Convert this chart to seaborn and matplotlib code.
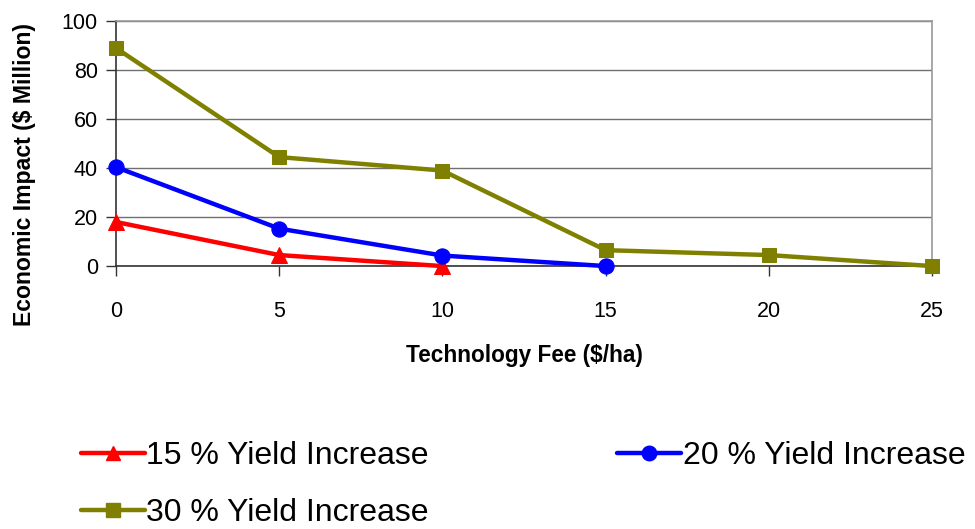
import matplotlib
matplotlib.use("Agg")
import matplotlib.pyplot as plt
import seaborn as sns
import pandas as pd
from matplotlib.lines import Line2D

# Technology fee levels ($/ha) and economic impact ($ million) per yield scenario
fee_15 = [0, 5, 10]
impact_15 = [18.0, 4.5, 0.0]

fee_20 = [0, 5, 10, 15]
impact_20 = [40.4, 15.3, 4.3, 0.0]

fee_30 = [0, 5, 10, 15, 20, 25]
impact_30 = [89.0, 44.5, 39.0, 6.5, 4.5, 0.0]

series_labels = ["15 % Yield Increase", "20 % Yield Increase", "30 % Yield Increase"]
x_ticks = [0, 5, 10, 15, 20, 25]
y_ticks = [0, 20, 40, 60, 80, 100]

sns.set_style("white")
plt.rcParams["font.family"] = ["Liberation Sans", "DejaVu Sans"]
plt.rcParams["text.color"] = "black"
plt.rcParams["axes.labelcolor"] = "black"
plt.rcParams["xtick.color"] = "black"
plt.rcParams["ytick.color"] = "black"

fig = plt.figure(figsize=(9.75, 5.29), dpi=100)
ax = fig.add_axes([0.119, 0.497, 0.837, 0.463])

styles = [
    (fee_15, impact_15, "#FF0000", "^", 11),
    (fee_20, impact_20, "#0000FF", "o", 11),
    (fee_30, impact_30, "#808000", "s", 10),
]

for (xs, ys, color, marker, ms), label in zip(styles, series_labels):
    df = pd.DataFrame({"fee": xs, "impact": ys})
    sns.lineplot(data=df, x="fee", y="impact", ax=ax, color=color, marker=marker,
                 markersize=ms, markeredgecolor=color, linewidth=3.2,
                 clip_on=False, zorder=3, label=label, legend=False)

ax.set_xlim(0, 25)
ax.set_ylim(0, 100)
ax.set_xticks(x_ticks)
ax.set_yticks(y_ticks)
ax.grid(axis="y", color="#707070", linewidth=1.0, zorder=0)
ax.grid(axis="x", visible=False)

for side in ["top", "right"]:
    ax.spines[side].set_color("#9a9a9a")
    ax.spines[side].set_linewidth(1.2)
for side in ["left", "bottom"]:
    ax.spines[side].set_color("#333333")
    ax.spines[side].set_linewidth(1.2)

ax.tick_params(axis="x", direction="out", length=7, width=1, color="#333333",
               labelsize=15.5, pad=18, bottom=True)
ax.tick_params(axis="y", direction="out", length=7, width=1, color="#333333",
               labelsize=15.5, pad=6, left=True)

ax.set_xlabel("Technology Fee ($/ha)", fontsize=16.3, fontweight="bold", labelpad=16)
ax.set_ylabel("Economic Impact ($ Million)", fontsize=16.6, fontweight="bold")
ax.yaxis.set_label_coords(-0.098, 0.375)

handles = [
    Line2D([0], [0], color=c, marker=m, markersize=ms * 0.95, linewidth=3.2,
           markeredgecolor=c)
    for (_, _, c, m, ms) in styles
]
# row-major order: 15 % and 20 % on the first row, 30 % below
order = [0, 2, 1]
fig.legend([handles[i] for i in order], [series_labels[i] for i in order],
           loc="upper left", bbox_to_anchor=(0.083, 0.166),
           ncol=2, frameon=False, fontsize=23.0, handlelength=2.0, handletextpad=0.05,
           columnspacing=5.9, labelspacing=0.84, borderaxespad=0, borderpad=0)

fig.savefig("out.png", dpi=100)
